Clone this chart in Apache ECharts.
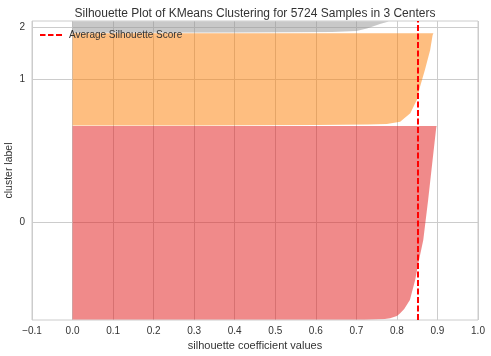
<!DOCTYPE html>
<html>
<head>
<meta charset="utf-8">
<script src="https://cdn.jsdelivr.net/npm/echarts@6/dist/echarts.min.js"></script>
<style>
html,body{margin:0;padding:0;background:#fff;}
#chart{width:491px;height:356px;}
</style>
</head>
<body>
<div id="chart"></div>
<script>
// ---- data ----
const titleText = 'Silhouette Plot of KMeans Clustering for 5724 Samples in 3 Centers';
const clusterLabels = ['0', '1', '2'];
const clusterSizes = [3731, 1778, 215];
const clusterGap = 10;
const avgScore = 0.852;
const xMin = -0.1, xMax = 1.0, xStep = 0.1;

// sorted silhouette values per cluster (rank within cluster -> value)
const redRanks    = [0, 9, 23, 67, 119, 200, 376, 761, 1089, 1532, 2304, 3075, 3700, 3731];
const redValues   = [0.72, 0.77, 0.783, 0.80, 0.808, 0.818, 0.832, 0.845, 0.853, 0.865, 0.877, 0.888, 0.897, 0.898];
const orangeRanks  = [0, 8, 20, 28, 72, 234, 491, 747, 1069, 1455, 1740, 1778];
const orangeValues = [0.30, 0.60, 0.73, 0.775, 0.808, 0.833, 0.849, 0.857, 0.869, 0.882, 0.888, 0.890];
const grayRanks  = [0, 5, 12, 30, 80, 170, 215];
const grayValues = [0.05, 0.40, 0.64, 0.70, 0.726, 0.76, 0.78];

const clusterColors = ['rgba(226,22,22,0.5)', 'rgba(253,125,1,0.5)', 'rgba(145,145,145,0.5)'];

// ---- derived layout of samples along y ----
const edges = [[redRanks, redValues], [orangeRanks, orangeValues], [grayRanks, grayValues]];
const lowers = [];
const tickPos = [];
let yl = clusterGap;
for (let i = 0; i < clusterSizes.length; i++) {
  lowers.push(yl);
  tickPos.push(yl + 0.5 * clusterSizes[i]);
  yl = yl + clusterSizes[i] + clusterGap;
}
const nSamples = clusterSizes.reduce((a, b) => a + b, 0);
const yMax = nSamples + (clusterSizes.length + 1) * clusterGap;

const font = "'Liberation Sans', Arial, sans-serif";
const textColor = '#333';

const chart = echarts.init(document.getElementById('chart'), null, {renderer: 'canvas'});
chart.setOption({
  animation: false,
  backgroundColor: '#fff',
  title: {
    text: titleText,
    left: 250, textAlign: 'center', top: 3,
    textStyle: {fontFamily: font, fontSize: 12, fontWeight: 'normal', color: textColor}
  },
  legend: {
    data: [{
      name: 'Average Silhouette Score',
      icon: 'path://M0,0h5.5v2h-5.5z M8,0h5.5v2h-5.5z M16,0h6v2h-6z'
    }],
    left: 35, top: 25,
    itemWidth: 22, itemHeight: 2, itemGap: 6,
    textStyle: {fontFamily: font, fontSize: 10, color: textColor, padding: [0, 0, 0, 2]}
  },
  grid: {
    left: 32, right: 13, top: 21, bottom: 36,
    outerBoundsMode: 'none', containLabel: false,
    show: true, borderColor: '#cccccc', borderWidth: 1
  },
  xAxis: {
    type: 'value', min: xMin, max: xMax, interval: xStep,
    name: 'silhouette coefficient values', nameLocation: 'middle', nameGap: 20,
    nameMoveOverlap: false,
    nameTextStyle: {fontFamily: font, fontSize: 11, color: textColor},
    axisLine: {show: false}, axisTick: {show: false},
    axisLabel: {
      fontFamily: font, fontSize: 10, color: textColor, margin: 6,
      formatter: v => (v < 0 ? '\u2212' : '') + Math.abs(v).toFixed(1)
    },
    splitLine: {show: true, lineStyle: {color: '#cccccc', width: 1}}
  },
  yAxis: {
    type: 'value', min: 0, max: yMax,
    name: 'cluster label', nameLocation: 'middle', nameGap: 17,
    nameMoveOverlap: false,
    nameTextStyle: {fontFamily: font, fontSize: 10.5, color: textColor},
    axisLine: {show: false},
    axisTick: {show: false, customValues: tickPos},
    axisLabel: {
      fontFamily: font, fontSize: 10, color: textColor, margin: 7,
      customValues: tickPos,
      formatter: v => {
        const i = tickPos.findIndex(t => Math.abs(t - v) < 1e-6);
        return i >= 0 ? clusterLabels[i] : '';
      }
    },
    splitLine: {show: true, lineStyle: {color: '#cccccc', width: 1}}
  },
  series: [
    {
      type: 'custom',
      name: 'silhouettes',
      silent: true,
      z: 2,
      encode: {x: 0, y: 1},
      data: clusterSizes.map((s, i) => [0, lowers[i], i]),
      renderItem: function (params, api) {
        const ci = params.dataIndex;
        const ranks = edges[ci][0], vals = edges[ci][1];
        const lower = lowers[ci];
        const pts = [api.coord([0, lower])];
        for (let k = 0; k < ranks.length; k++) {
          pts.push(api.coord([vals[k], lower + ranks[k]]));
        }
        pts.push(api.coord([0, lower + clusterSizes[ci]]));
        return {
          type: 'polygon',
          shape: {points: pts},
          style: {fill: clusterColors[ci], stroke: null}
        };
      }
    },
    {
      type: 'line',
      name: 'Average Silhouette Score',
      z: 5,
      symbol: 'none',
      silent: true,
      data: [[avgScore, 0], [avgScore, yMax]],
      lineStyle: {color: '#ff0000', type: [6, 2.5], width: 2},
      itemStyle: {color: '#ff0000'}
    }
  ]
});
</script>
</body>
</html>
